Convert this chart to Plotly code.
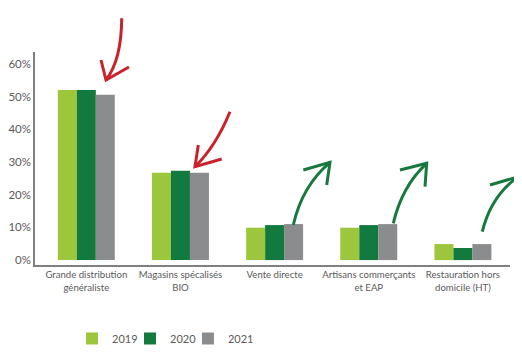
import plotly.graph_objects as go

categories = ["Grande distribution<br>généraliste", "Magasins spécalisés<br>BIO",
              "Vente directe", "Artisans commerçants<br>et EAP", "Restauration hors<br>domicile (HT)"]
years = ["2019", "2020", "2021"]
v2019 = [52.0, 26.7, 9.9, 9.9, 4.9]
v2020 = [52.0, 27.3, 10.7, 10.7, 3.7]
v2021 = [50.5, 26.7, 11.0, 11.0, 4.9]
colors = ["#9cc63b", "#137a3f", "#8a8c8e"]
ytickvals = [0, 10, 20, 30, 40, 50, 60]
yticktext = ["0%", "10%", "20%", "30%", "40%", "50%", "60%"]

FONT = "Lato"
TXT = "#5a5a5a"

legend_ids = ["legend", "legend2", "legend3"]
legend_x = [0.078, 0.200, 0.322]

fig = go.Figure()
for name, vals, c, lg in zip(years, [v2019, v2020, v2021], colors, legend_ids):
    fig.add_trace(go.Bar(x=categories, y=vals, name=name, legend=lg,
                         marker=dict(color=c, line=dict(width=0))))

# page has an 8px body margin: figure origin sits at (8, 8)
OFF = 8
W, H = 522 - OFF, 356 - OFF
# plot area in page pixels
L, R, T, B = 35, 510, 52, 265
def px(x):
    return (x - L) / (R - L)
def py(y):
    return (B - y) / (B - T)

def curve(p0, c, p1):
    return f"M{px(p0[0])},{py(p0[1])} Q{px(c[0])},{py(c[1])} {px(p1[0])},{py(p1[1])}"
def head(a, tip, b):
    return f"M{px(a[0])},{py(a[1])} L{px(tip[0])},{py(tip[1])} L{px(b[0])},{py(b[1])}"

red = "#c9222b"
green = "#18793f"
arrows = [
    (red, (121.7, 18.3), (121.5, 60), (106, 80), (101, 60), (129, 67)),
    (red, (230, 111.7), (216, 146), (195, 166.7), (198.3, 145), (221.7, 159)),
    (green, (293.3, 225), (302, 186), (330, 162.3), (303.3, 170), (326.7, 185)),
    (green, (393.3, 223.3), (402, 186), (426.7, 163.3), (400, 170), (425, 186.7)),
    (green, (482.3, 231.7), (491, 196), (518.3, 176.7), (490, 185), (516.5, 206)),
]
shapes = []
for col, s, c, tip, a, b in arrows:
    shapes.append(dict(type="path", xref="paper", yref="paper", path=curve(s, c, tip),
                       line=dict(color=col, width=3)))
    shapes.append(dict(type="path", xref="paper", yref="paper", path=head(a, tip, b),
                       line=dict(color=col, width=3)))

legend_common = dict(orientation="h", xanchor="left", y=-0.345, yanchor="middle",
                     font=dict(size=11, color=TXT), itemclick=False,
                     bgcolor="rgba(0,0,0,0)")

fig.update_layout(
    width=W, height=H,
    margin=dict(l=L - OFF, r=W - (R - OFF), t=T - OFF, b=H - (B - OFF), pad=0, autoexpand=False),
    paper_bgcolor="white", plot_bgcolor="white",
    barmode="group", bargap=0.395, bargroupgap=0,
    font=dict(family=FONT, color=TXT, size=11),
    shapes=shapes,
    showlegend=True,
    legend=dict(x=legend_x[0], **legend_common),
    legend2=dict(x=legend_x[1], **legend_common),
    legend3=dict(x=legend_x[2], **legend_common),
    xaxis=dict(type="category", range=[-0.545, 4.5], showline=True, linecolor="#808080",
               linewidth=1.5, ticks="", showgrid=False, automargin=False,
               tickfont=dict(size=9.6, color=TXT)),
    yaxis=dict(range=[-1.5, 63.6], tickvals=ytickvals, ticktext=yticktext, showline=True,
               linecolor="#808080", linewidth=1.5, ticks="", showgrid=False, zeroline=False,
               automargin=False, tickfont=dict(size=11.5, color=TXT)),
)

fig.write_html("out.html")
